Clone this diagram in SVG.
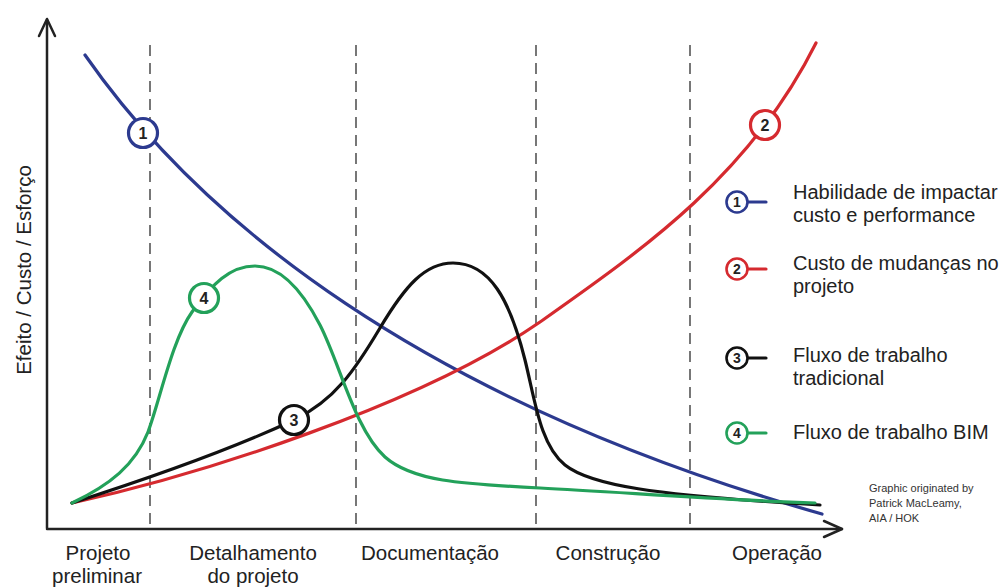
<svg xmlns="http://www.w3.org/2000/svg" width="1003" height="588" viewBox="0 0 1003 588">
<style>
  .axis{stroke:#222;stroke-width:2.5;fill:none;stroke-linecap:round;stroke-linejoin:round}
  .dash{stroke:#555;stroke-width:1.6;stroke-dasharray:11 7;fill:none}
  .curve{fill:none;stroke-width:3.2;stroke-linecap:round;stroke-linejoin:round}
  .blue{stroke:#2c3a8f}
  .red{stroke:#d52a2f}
  .black{stroke:#111}
  .green{stroke:#23a15a}
  .mk{fill:#fff;stroke-width:3.2}
  .lg{fill:#fff;stroke-width:2.6}
  .num{font-family:"Liberation Sans",Arial,sans-serif;font-weight:bold;fill:#222;text-anchor:middle}
  .lab{font-family:"Liberation Sans",Arial,sans-serif;font-size:20.5px;fill:#222;text-anchor:middle}
  .leg{font-family:"Liberation Sans",Arial,sans-serif;font-size:20px;fill:#222}
  .cred{font-family:"Liberation Sans",Arial,sans-serif;font-size:11px;fill:#333}
</style>
<rect width="1003" height="588" fill="#fff"/>

<g id="axes">
  <path class="axis" d="M47,528 L47,20"/>
  <path class="axis" d="M39,36 L47,19 L55,36"/>
  <path class="axis" d="M47,529 L842,529"/>
  <path class="axis" d="M824,521 L842,529 L824,537"/>
  <text transform="translate(31,270) rotate(-90)" class="lab" style="font-size:20.5px">Efeito / Custo / Esforço</text>
</g>

<g id="phase-dividers">
  <line class="dash" x1="150" y1="45" x2="150" y2="525"/>
  <line class="dash" x1="356" y1="45" x2="356" y2="525"/>
  <line class="dash" x1="536" y1="45" x2="536" y2="525"/>
  <line class="dash" x1="690" y1="45" x2="690" y2="525"/>
</g>

<g id="connectors">
  <path id="curve-1" class="curve blue" d="M85,55 C200,220 420,400 822,514"/>
  <path id="curve-2" class="curve red" d="M72,503 C200,475 420,405 540,322 C645,248 750,175 816,43"/>
  <path id="curve-3" class="curve black" d="M72,503 C150,478 230,450 294,420 C335,400 355,370 380,328 C405,286 425,263 453,263 C490,263 510,300 525,360 C535,400 540,445 565,465 C590,485 650,495 820,505"/>
  <path id="curve-4" class="curve green" d="M72,503 C110,485 135,465 148,432 C160,400 172,340 192,312 C212,284 230,266 255,266 C282,266 303,292 320,325 C340,364 355,430 385,457 C412,481 460,484 540,488 C620,492 720,500 815,503"/>
  <line class="curve blue" x1="748" y1="202" x2="766" y2="202"/>
  <line class="curve red" x1="748" y1="269" x2="766" y2="269"/>
  <line class="curve black" x1="748" y1="358" x2="766" y2="358"/>
  <line class="curve green" x1="748" y1="433" x2="766" y2="433"/>
</g>

<g id="marker-1"><circle class="mk blue" cx="143" cy="133" r="14.5"/><text class="num" x="143" y="139" font-size="16">1</text></g>
<g id="marker-2"><circle class="mk red" cx="765" cy="125" r="14.5"/><text class="num" x="765" y="131" font-size="16">2</text></g>
<g id="marker-3"><circle class="mk black" cx="294" cy="420" r="14.5"/><text class="num" x="294" y="426" font-size="16">3</text></g>
<g id="marker-4"><circle class="mk green" cx="204" cy="298" r="14.5"/><text class="num" x="204" y="304" font-size="16">4</text></g>

<g id="legend-1">
  <circle class="lg blue" cx="737" cy="202" r="10.5"/><text class="num" x="737" y="207" font-size="14">1</text>
  <text class="leg" x="793" y="199">Habilidade de impactar</text>
  <text class="leg" x="793" y="222">custo e performance</text>
</g>
<g id="legend-2">
  <circle class="lg red" cx="737" cy="269" r="10.5"/><text class="num" x="737" y="274" font-size="14">2</text>
  <text class="leg" x="793" y="270">Custo de mudanças no</text>
  <text class="leg" x="793" y="293">projeto</text>
</g>
<g id="legend-3">
  <circle class="lg black" cx="737" cy="358" r="10.5"/><text class="num" x="737" y="363" font-size="14">3</text>
  <text class="leg" x="793" y="362">Fluxo de trabalho</text>
  <text class="leg" x="793" y="385">tradicional</text>
</g>
<g id="legend-4">
  <circle class="lg green" cx="737" cy="433" r="10.5"/><text class="num" x="737" y="438" font-size="14">4</text>
  <text class="leg" x="793" y="439">Fluxo de trabalho BIM</text>
</g>

<g id="phase-labels">
  <text class="lab" x="98" y="560">Projeto</text>
  <text class="lab" x="97" y="583">preliminar</text>
  <text class="lab" x="253" y="560">Detalhamento</text>
  <text class="lab" x="253" y="583">do projeto</text>
  <text class="lab" x="430" y="560">Documentação</text>
  <text class="lab" x="608" y="560">Construção</text>
  <text class="lab" x="777" y="560">Operação</text>
</g>

<g id="credit">
  <text class="cred" x="869" y="492">Graphic originated by</text>
  <text class="cred" x="869" y="507">Patrick MacLeamy,</text>
  <text class="cred" x="869" y="522">AIA / HOK</text>
</g>
</svg>
